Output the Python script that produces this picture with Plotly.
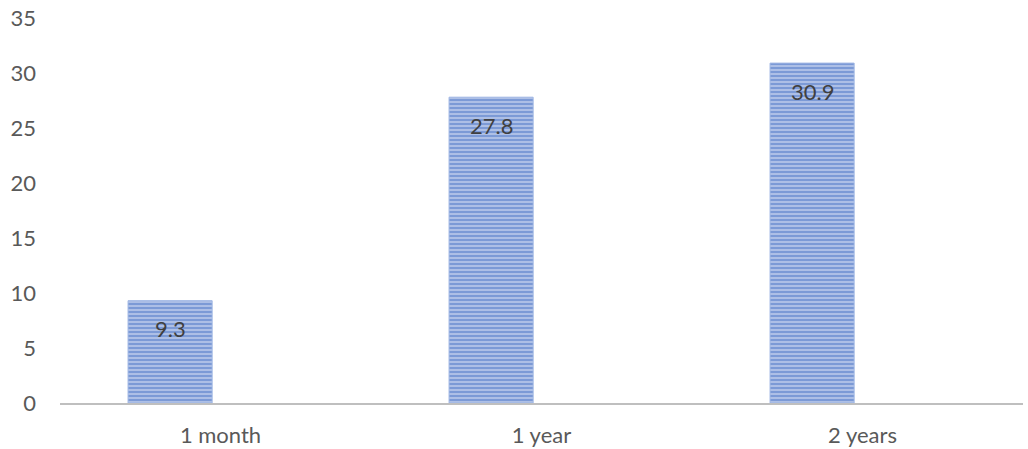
import plotly.graph_objects as go

categories = ["1 month", "1 year", "2 years"]
values = [9.3, 27.8, 30.9]
y_ticks = [0, 5, 10, 15, 20, 25, 30, 35]

font_family = "Lato, 'Open Sans', sans-serif"

# bars sit left of the category centre, as in a two-series cluster
bar_width = 0.262
bar_shift = -0.157

fig = go.Figure(
    go.Bar(
        x=categories,
        y=values,
        width=bar_width,
        offset=bar_shift - bar_width / 2,
        marker=dict(
            color="#b8c9ec",
            line=dict(color="#9fb6e4", width=1),
            pattern=dict(shape="-", fgcolor="#3c69c0", bgcolor="#bccbec",
                         size=4, solidity=0.62),
        ),
        hoverinfo="skip",
    )
)

# value labels just below the top of each bar
for cat, val in zip(categories, values):
    fig.add_annotation(
        x=cat, y=val, text=f"{val}", showarrow=False,
        yanchor="middle", yshift=-28, xshift=bar_shift * 321,
        font=dict(family=font_family, size=22, color="#404040"),
    )

fig.update_layout(
    width=1028,
    height=449,
    margin=dict(l=60, r=5, t=18, b=46),
    plot_bgcolor="white",
    paper_bgcolor="white",
    showlegend=False,
    xaxis=dict(
        range=[-0.5, 2.5],
        automargin=False,
        showgrid=False,
        showline=True,
        linecolor="#bfbfbf",
        linewidth=2,
        ticks="",
        ticklabelstandoff=12,
        tickfont=dict(family=font_family, size=22, color="#595959"),
    ),
    yaxis=dict(
        range=[0, 35],
        automargin=False,
        tickvals=y_ticks,
        showgrid=False,
        zeroline=False,
        showline=False,
        ticks="",
        ticklabelstandoff=23,
        tickfont=dict(family=font_family, size=22, color="#595959"),
    ),
)

fig.write_html("out.html")
